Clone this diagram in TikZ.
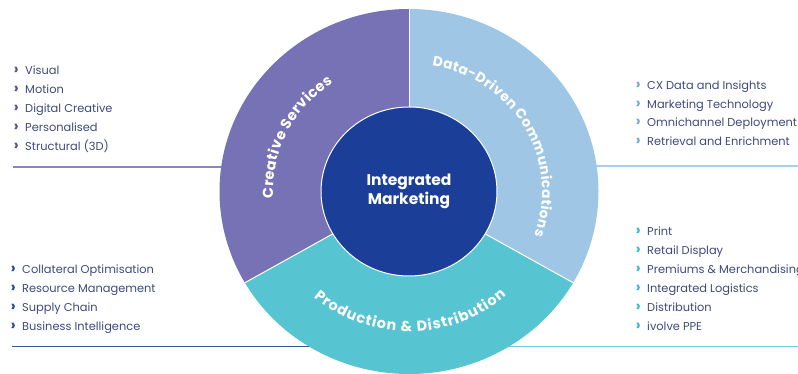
\documentclass[tikz,border=0pt]{standalone}
\usepackage{fontspec}
\setmainfont{Poppins}
\usetikzlibrary{decorations.text,shapes.geometric}
\definecolor{purp}{HTML}{7771B5}
\definecolor{lblue}{HTML}{9FC7E5}
\definecolor{tealc}{HTML}{57C4D1}
\definecolor{navy}{HTML}{1B3F98}
\definecolor{txt}{HTML}{3F4A7C}
\definecolor{lnpurp}{HTML}{8C84C4}
\definecolor{lnblue}{HTML}{A9CFEA}
\definecolor{lnnavy}{HTML}{3A55A3}
\definecolor{lnteal}{HTML}{6DCEDA}
\definecolor{mkpurp}{HTML}{5B5592}
\definecolor{mkblue}{HTML}{7FA9CF}
\definecolor{mknavy}{HTML}{2C4A9A}
\definecolor{mkteal}{HTML}{3DBACB}
\tikzset{
  item/.style={anchor=base west, inner sep=0pt, text=txt, font=\fontsize{11.4}{13}\selectfont},
  bullet/.style={anchor=base west, inner sep=0pt, font=\bfseries\fontsize{15.5}{16}\selectfont},
  rule/.style={line width=1.8pt},
  sep/.style={draw=white, line width=1pt},
  arclabel/.style={decorate, decoration={text along path, text color=white, text align=fit to path}}
}
\begin{document}
\begin{tikzpicture}[x=1pt,y=1pt]
\useasboundingbox (0,0) rectangle (798,374);
\fill[white] (0,0) rectangle (798,374);
% horizontal rules
\coordinate (tlA) at (13,207);  \coordinate (tlB) at (300,207);
\coordinate (trA) at (520,208); \coordinate (trB) at (798,208);
\coordinate (blA) at (12,27.5); \coordinate (blB) at (330,27.5);
\coordinate (brA) at (480,27.5);\coordinate (brB) at (798,27.5);
\draw[rule, lnpurp] (tlA) -- (tlB);
\draw[rule, lnblue] (trA) -- (trB);
\draw[rule, lnnavy] (blA) -- (blB);
\draw[rule, lnteal] (brA) -- (brB);
% disc
\coordinate (c) at (409,182.5);
\fill[purp] (c) -- (409,365) arc[start angle=90,end angle=210,x radius=189.5,y radius=182.5] -- cycle;
\fill[lblue] (c) -- (409,365) arc[start angle=90,end angle=-30,x radius=189.5,y radius=182.5] -- cycle;
\fill[tealc] (c) -- ({409+189.5*cos(210)},{182.5+182.5*sin(210)}) arc[start angle=210,end angle=330,x radius=189.5,y radius=182.5] -- cycle;
\coordinate (s1) at (409,365);
\coordinate (s2) at ({409+189.5*cos(210)},{182.5+182.5*sin(210)});
\coordinate (s3) at ({409+189.5*cos(330)},{182.5+182.5*sin(330)});
\draw[sep] (c) -- (s1);
\draw[sep] (c) -- (s2);
\draw[sep] (c) -- (s3);
\node[ellipse, fill=navy, draw=white, line width=1pt, minimum width=176pt, minimum height=169pt, inner sep=0pt,
      align=center, text=white, font=\bfseries\fontsize{15.5}{18.5}\selectfont] (core) at (c) {Integrated\\Marketing};
% arc labels
\path[arclabel, decoration={text={|\bfseries\fontsize{14.5}{15}\selectfont|Creative Services}}]
  ({409+136*cos(183)},{182.5+131*sin(183)}) arc[start angle=183,end angle=124,x radius=136,y radius=131];
\path[arclabel, decoration={text={|\bfseries\fontsize{13.8}{15}\selectfont|Data-Driven Communications}}]
  ({409+133*cos(80)},{182.5+128*sin(80)}) arc[start angle=80,end angle=-20,x radius=133,y radius=128];
\path[arclabel, decoration={text={|\bfseries\fontsize{14.5}{15}\selectfont|Production {\&} Distribution}}]
  ({409+145.5*cos(229)},{182.5+140*sin(229)}) arc[start angle=229,end angle=312,x radius=145.5,y radius=140];
% top-left list
\foreach \t [count=\i from 0] in {Visual,Motion,Digital Creative,Personalised,Structural (3D)} {
  \node[bullet, text=mkpurp] (tlm\i) at (13.5,{374-75-18.85*\i}) {›};
  \node[item] (tl\i) at (25,{374-75-18.85*\i}) {\t};
}
% top-right list
\foreach \t [count=\i from 0] in {CX Data and Insights,Marketing Technology,Omnichannel Deployment,Retrieval and Enrichment} {
  \node[bullet, text=mkblue] (trm\i) at (635.5,{374-89.3-18.85*\i}) {›};
  \node[item] (tr\i) at (647,{374-89.3-18.85*\i}) {\t};
}
% bottom-left list
\foreach \t [count=\i from 0] in {Collateral Optimisation,Resource Management,Supply Chain,Business Intelligence} {
  \node[bullet, text=mknavy] (blm\i) at (10.5,{374-273.6-18.85*\i}) {›};
  \node[item] (bl\i) at (22,{374-273.6-18.85*\i}) {\t};
}
% bottom-right list
\foreach \t [count=\i from 0] in {Print,Retail Display,Premiums \& Merchandising,Integrated Logistics,Distribution,ivolve PPE} {
  \node[bullet, text=mkteal] (brm\i) at (635.5,{374-236-18.9*\i}) {›};
  \node[item] (br\i) at (647,{374-236-18.9*\i}) {\t};
}
\end{tikzpicture}
\end{document}
